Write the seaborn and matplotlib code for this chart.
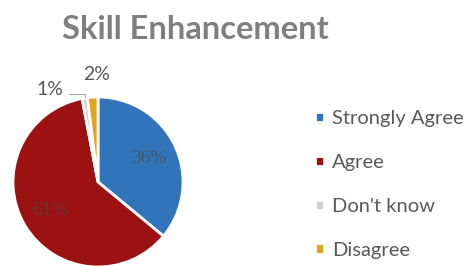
import numpy as np
import matplotlib
matplotlib.use('Agg')
import matplotlib.pyplot as plt
import seaborn as sns

## data
labels = ['Strongly Agree', 'Agree', "Don't know", 'Disagree']
values = [36, 61, 1, 2]
colors = ['#3274b9', '#9c1212', '#cfcfcf', '#e3a51c']

sns.set_theme(style='white')
plt.rcParams['font.family'] = ['Lato', 'DejaVu Sans']

fig = plt.figure(figsize=(4.7, 2.66), dpi=100)

# pie axes, pie runs off the bottom edge like the original
ax = fig.add_axes([13 / 470, -1 / 266, 170 / 470, 170 / 266])
wedges, texts, autotexts = ax.pie(
    values, colors=colors, startangle=90, counterclock=False,
    autopct='%d%%', pctdistance=0.66, radius=1,
    wedgeprops=dict(edgecolor='white', linewidth=2),
    textprops=dict(color='#4d4d4d', fontsize=14),
)
ax.set_xlim(-1, 1)
ax.set_ylim(-1, 1)
ax.set_aspect('equal')
ax.axis('off')

# inner labels: serif, dim; small slices get outside labels
for w, t, v in zip(wedges, autotexts, values):
    if v >= 10:
        t.set_family('Liberation Serif')
        t.set_color('#4a4a4a')
        t.set_alpha(0.7)
    else:
        t.set_visible(False)

# outside labels for the thin slices
small = [(2, 18, 1.22, True), (3, -3, 1.27, False)]
for idx, shift, dist, leader in small:
    w = wedges[idx]
    mid = np.deg2rad((w.theta1 + w.theta2) / 2)
    lab = np.deg2rad((w.theta1 + w.theta2) / 2 + shift)
    tx, ty = 1.25 * np.cos(lab), dist * np.sin(lab)
    if leader:
        ax.annotate(f'{values[idx]}%', xy=(np.cos(mid) * 1.01, np.sin(mid) * 1.01),
                    xytext=(tx, ty), ha='center', va='center', fontsize=14,
                    color='#595959', annotation_clip=False,
                    arrowprops=dict(arrowstyle='-', color='#a6a6a6', lw=0.8,
                                    relpos=(1, 0.25), shrinkA=2, shrinkB=0,
                                    connectionstyle='angle,angleA=0,angleB=90,rad=0'))
    else:
        ax.text(tx, ty, f'{values[idx]}%', ha='center', va='center', fontsize=14,
                color='#595959', clip_on=False)

fig.text(0.416, 0.89, 'Skill Enhancement', ha='center', va='center',
         fontsize=23.5, fontweight='bold', color='#7f7f7f')

leg = fig.legend(wedges, labels, loc='center left', bbox_to_anchor=(0.632, 0.306),
                 frameon=False, fontsize=14.5, labelcolor='#595959',
                 handlelength=0.45, handleheight=0.45, handletextpad=0.4,
                 labelspacing=1.34)

fig.savefig('out.png', dpi=100)
